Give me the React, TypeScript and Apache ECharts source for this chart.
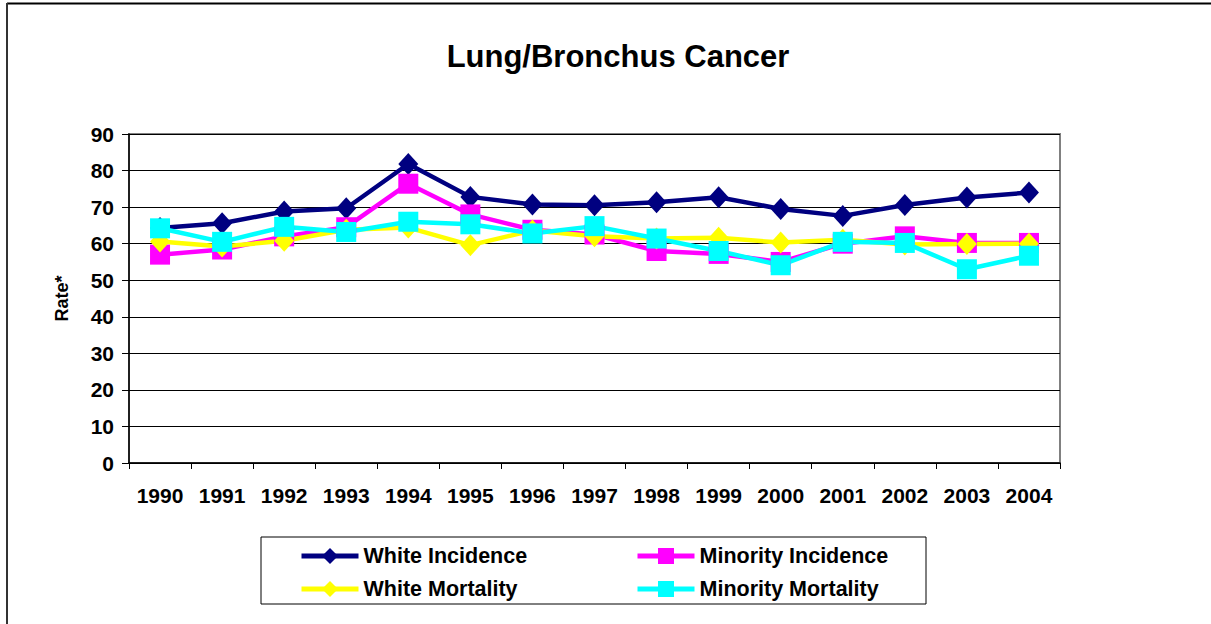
import React, { useEffect, useRef } from "react";
import * as echarts from "echarts";

const years = ["1990","1991","1992","1993","1994","1995","1996","1997","1998","1999","2000","2001","2002","2003","2004"];
const whiteIncidence = [64.3, 65.6, 68.8, 69.7, 81.8, 72.8, 70.7, 70.5, 71.3, 72.7, 69.5, 67.6, 70.6, 72.6, 74.0];
const minorityIncidence = [57.0, 58.4, 62.0, 64.5, 76.4, 68.0, 63.8, 62.5, 58.0, 57.2, 55.0, 60.0, 62.0, 60.2, 60.2];
const whiteMortality = [60.6, 59.2, 60.8, 63.8, 64.4, 59.6, 63.6, 62.0, 61.4, 61.6, 60.3, 61.1, 59.8, 59.9, 60.0];
const minorityMortality = [64.2, 60.5, 64.6, 63.2, 66.0, 65.3, 62.8, 64.8, 61.4, 58.0, 54.1, 60.5, 60.2, 53.0, 56.7];
const yTicks = [0, 10, 20, 30, 40, 50, 60, 70, 80, 90];

const FONT = "'Liberation Sans', Arial, sans-serif";

export default function App() {
  const ref = useRef<HTMLDivElement>(null);
  useEffect(() => {
    const chart = echarts.init(ref.current!, null, { renderer: "svg" });
    const mk = (name: string, data: number[], color: string, symbol: string, size: any) => ({
      name,
      type: "line",
      data,
      symbol,
      symbolSize: size,
      lineStyle: { color, width: 4.5 },
      itemStyle: { color },
      emphasis: { disabled: true },
    });
    const legendText = { fontFamily: FONT, fontSize: 21.5, fontWeight: "bold", color: "#000" };
    const legendCommon = {
      orient: "vertical",
      top: 540,
      itemWidth: 57,
      itemHeight: 20,
      itemGap: 11,
      itemTextGap: 5,
      textStyle: legendText,
      lineStyle: { width: 5 },
      selectedMode: false,
    };
    chart.setOption({
      animation: false,
      backgroundColor: "#fff",
      title: {
        text: "Lung/Bronchus Cancer",
        left: 613,
        textAlign: "center",
        top: 36,
        textStyle: { fontFamily: FONT, fontSize: 31, fontWeight: "bold", color: "#000" },
      },
      grid: {
        left: 129,
        right: 151,
        top: 134,
        bottom: 161,
        show: true,
        borderColor: "#808080",
        borderWidth: 2,
        backgroundColor: "#fff",
      },
      xAxis: {
        type: "category",
        data: years,
        boundaryGap: true,
        axisLine: { lineStyle: { color: "#000", width: 1.5 } },
        axisTick: { show: true, length: 6, lineStyle: { color: "#000" } },
        axisLabel: { fontFamily: FONT, fontSize: 21, fontWeight: "bold", color: "#000", margin: 22 },
      },
      yAxis: {
        type: "value",
        min: yTicks[0],
        max: yTicks[yTicks.length - 1],
        interval: 10,
        name: "Rate*",
        nameLocation: "middle",
        nameGap: 58,
        nameRotate: 90,
        nameTextStyle: { fontFamily: FONT, fontSize: 18, fontWeight: "bold", color: "#000" },
        axisLine: { show: true, lineStyle: { color: "#000", width: 1.5 } },
        axisTick: { show: true, length: 7, lineStyle: { color: "#000" } },
        axisLabel: { fontFamily: FONT, fontSize: 21, fontWeight: "bold", color: "#000", margin: 15 },
        splitLine: { lineStyle: { color: "#000", width: 1 } },
      },
      legend: [
        { ...legendCommon, data: ["White Incidence", "White Mortality"], left: 294 },
        { ...legendCommon, data: ["Minority Incidence", "Minority Mortality"], left: 630 },
      ],
      graphic: [
        { type: "rect", shape: { x: 261, y: 537, width: 665, height: 67 }, style: { fill: "none", stroke: "#000", lineWidth: 1 }, silent: true },
        { type: "line", shape: { x1: 7, y1: 3.5, x2: 1211, y2: 3.5 }, style: { stroke: "#000", lineWidth: 2 }, silent: true },
        { type: "line", shape: { x1: 7, y1: 3, x2: 7, y2: 624 }, style: { stroke: "#333", lineWidth: 2 }, silent: true },
      ],
      series: [
        mk("White Incidence", whiteIncidence, "#000080", "diamond", [20, 22]),
        mk("Minority Incidence", minorityIncidence, "#FF00FF", "rect", 20),
        mk("White Mortality", whiteMortality, "#FFFF00", "diamond", [20, 22]),
        mk("Minority Mortality", minorityMortality, "#00FFFF", "rect", 20),
      ],
    });
    return () => chart.dispose();
  }, []);
  return <div ref={ref} style={{ position: "absolute", left: 0, top: 0, width: 1211, height: 624 }} />;
}
